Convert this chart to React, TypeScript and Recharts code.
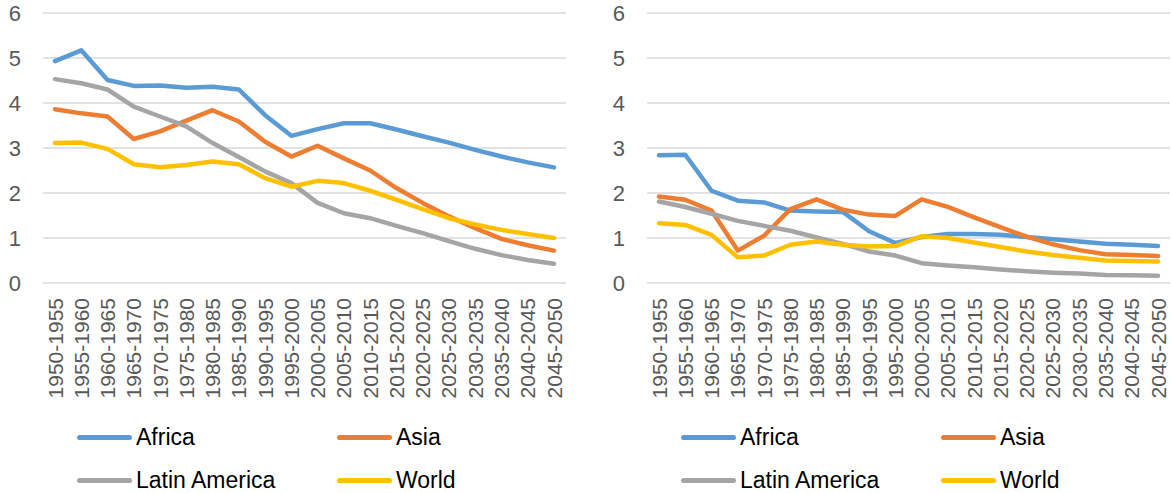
import { LineChart, Line, XAxis, YAxis, CartesianGrid, Legend } from 'recharts'

const periods = [
  '1950-1955', '1955-1960', '1960-1965', '1965-1970', '1970-1975', '1975-1980', '1980-1985',
  '1985-1990', '1990-1995', '1995-2000', '2000-2005', '2005-2010', '2010-2015', '2015-2020',
  '2020-2025', '2025-2030', '2030-2035', '2035-2040', '2040-2045', '2045-2050',
]

const yTicks = [0, 1, 2, 3, 4, 5, 6]

// left panel
const leftAfrica = [4.93, 5.17, 4.51, 4.38, 4.39, 4.34, 4.36, 4.3, 3.73, 3.27, 3.42, 3.55, 3.55, 3.41, 3.26, 3.12, 2.96, 2.81, 2.68, 2.57]
const leftAsia = [3.86, 3.77, 3.7, 3.2, 3.37, 3.61, 3.84, 3.59, 3.14, 2.81, 3.05, 2.77, 2.5, 2.11, 1.78, 1.48, 1.22, 0.98, 0.84, 0.72]
const leftLatin = [4.53, 4.44, 4.3, 3.92, 3.7, 3.48, 3.11, 2.8, 2.48, 2.22, 1.78, 1.55, 1.44, 1.27, 1.11, 0.93, 0.76, 0.62, 0.51, 0.43]
const leftWorld = [3.11, 3.12, 2.98, 2.64, 2.57, 2.62, 2.7, 2.64, 2.33, 2.14, 2.27, 2.22, 2.05, 1.85, 1.64, 1.44, 1.3, 1.18, 1.09, 1.0]

// right panel
const rightAfrica = [2.84, 2.85, 2.05, 1.83, 1.79, 1.61, 1.59, 1.58, 1.15, 0.89, 1.02, 1.09, 1.09, 1.07, 1.02, 0.97, 0.92, 0.87, 0.85, 0.82]
const rightAsia = [1.92, 1.85, 1.61, 0.72, 1.05, 1.64, 1.86, 1.63, 1.52, 1.49, 1.86, 1.69, 1.46, 1.24, 1.03, 0.86, 0.73, 0.64, 0.62, 0.6]
const rightLatin = [1.81, 1.69, 1.54, 1.38, 1.27, 1.16, 1.01, 0.87, 0.7, 0.61, 0.44, 0.39, 0.35, 0.3, 0.26, 0.23, 0.21, 0.18, 0.17, 0.16]
const rightWorld = [1.33, 1.29, 1.07, 0.57, 0.61, 0.85, 0.92, 0.85, 0.81, 0.82, 1.04, 1.0, 0.9, 0.8, 0.7, 0.62, 0.56, 0.5, 0.49, 0.48]

const seriesInfo = [
  { key: 'Africa', color: '#5B9BD5' },
  { key: 'Asia', color: '#ED7D31' },
  { key: 'Latin America', color: '#A5A5A5' },
  { key: 'World', color: '#FFC000' },
]

const FONT = '"Liberation Sans", Arial, sans-serif'

function buildData(africa: number[], asia: number[], latin: number[], world: number[]) {
  return periods.map((p, i) => ({
    period: p,
    Africa: africa[i],
    Asia: asia[i],
    'Latin America': latin[i],
    World: world[i],
  }))
}

const leftData = buildData(leftAfrica, leftAsia, leftLatin, leftWorld)
const rightData = buildData(rightAfrica, rightAsia, rightLatin, rightWorld)

function PeriodTick({ x, y, payload }: any) {
  return (
    <text
      x={x}
      y={y + 15}
      transform={`rotate(-90, ${x}, ${y + 15})`}
      textAnchor="end"
      dy="0.36em"
      fontSize={21}
      fill="#595959"
      fontFamily={FONT}
    >
      {payload.value}
    </text>
  )
}

function LegendBox() {
  const spots = [
    { left: 77, top: 39 },
    { left: 337, top: 39 },
    { left: 77, top: 82 },
    { left: 337, top: 82 },
  ]
  return (
    <div style={{ position: 'relative', width: 604, height: 95 }}>
      {seriesInfo.map((s, i) => (
        <div
          key={s.key}
          style={{
            position: 'absolute',
            left: spots[i].left,
            top: spots[i].top - 13,
            height: 26,
            display: 'flex',
            alignItems: 'center',
          }}
        >
          <div style={{ width: 55, height: 5, borderRadius: 3, background: s.color }} />
          <span style={{ marginLeft: 4, fontSize: 23, fontFamily: FONT, color: '#000', lineHeight: '26px' }}>
            {s.key}
          </span>
        </div>
      ))}
    </div>
  )
}

function Panel({ data }: { data: any[] }) {
  return (
    <LineChart width={604} height={493} data={data} margin={{ top: 13, right: 38, left: 0, bottom: 0 }}>
      <CartesianGrid vertical={false} stroke="#D9D9D9" strokeWidth={1.3} />
      <XAxis
        dataKey="period"
        interval={0}
        axisLine={false}
        tickLine={false}
        tickSize={0}
        tickMargin={0}
        height={115}
        padding={{ left: 12, right: 12 }}
        tick={<PeriodTick />}
      />
      <YAxis
        domain={[0, 6]}
        ticks={yTicks}
        width={43}
        axisLine={false}
        tickLine={false}
        tickSize={0}
        tickMargin={22}
        tick={{ fontSize: 22, fill: '#595959', fontFamily: FONT }}
      />
      <Legend
        verticalAlign="bottom"
        height={95}
        wrapperStyle={{ left: 0, top: 398, width: 604, height: 95 }}
        content={() => <LegendBox />}
      />
      {seriesInfo.map((s) => (
        <Line
          key={s.key}
          type="linear"
          dataKey={s.key}
          stroke={s.color}
          strokeWidth={4.5}
          strokeLinecap="round"
          strokeLinejoin="round"
          dot={false}
          activeDot={false}
          isAnimationActive={false}
        />
      ))}
    </LineChart>
  )
}

export default function App() {
  return (
    <div
      style={{
        position: 'absolute',
        left: 0,
        top: 0,
        width: 1171,
        height: 493,
        overflow: 'hidden',
        background: '#fff',
      }}
    >
      <div style={{ position: 'absolute', left: 0, top: 0 }}>
        <Panel data={leftData} />
      </div>
      <div style={{ position: 'absolute', left: 604, top: 0 }}>
        <Panel data={rightData} />
      </div>
    </div>
  )
}
